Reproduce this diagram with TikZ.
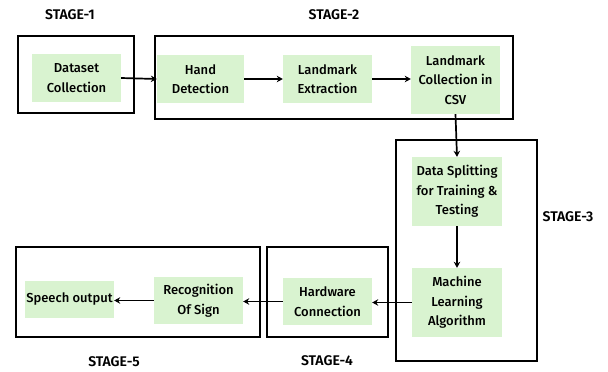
\documentclass[tikz,border=0pt]{standalone}
\usepackage{fontspec}
\setmainfont{Fira Sans}[UprightFont=* Medium, BoldFont=* SemiBold]
\usetikzlibrary{arrows.meta}
\definecolor{boxgreen}{RGB}{217,243,208}
\begin{document}
\begin{tikzpicture}[x=1pt,y=-1pt,
  gbox/.style={fill=boxgreen,draw=none,align=center,inner sep=0pt,font=\fontsize{13}{19.5}\selectfont},
  frame/.style={draw=black,line width=1.7pt},
  arr/.style={-{Stealth[length=6pt,width=6.5pt]},line width=1.7pt},
  lab/.style={font=\fontsize{14}{16}\selectfont\bfseries}]
\useasboundingbox (0,0) rectangle (608,372);
% stage frames
\draw[frame] (18,36) rectangle (134,113);
\draw[frame] (155,36) rectangle (513,119);
\draw[frame] (396,140) rectangle (537,361);
\draw[frame] (267,247) rectangle (388,337);
\draw[frame] (16,247) rectangle (260,337);
% labels
\node[lab] (l1) at (70,15) {STAGE-1};
\node[lab] (l2) at (334,15) {STAGE-2};
\node[lab] (l3) at (568,217) {STAGE-3};
\node[lab] (l4) at (327,361) {STAGE-4};
\node[lab] (l5) at (114,362) {STAGE-5};
% boxes
\node[gbox,minimum width=89pt,minimum height=48pt] (ds) at (76.5,78) {Dataset\\Collection};
\node[gbox,minimum width=87pt,minimum height=48pt] (hd) at (200.5,79) {Hand\\Detection};
\node[gbox,minimum width=89pt,minimum height=48pt] (le) at (327.5,79) {Landmark\\Extraction};
\node[gbox,minimum width=89pt,minimum height=68pt] (csv) at (455.5,80) {Landmark\\Collection in\\CSV};
\node[gbox,minimum width=90pt,minimum height=69pt] (split) at (457,191.5) {Data Splitting\\for Training \&\\Testing};
\node[gbox,minimum width=90pt,minimum height=69pt] (ml) at (457,302.5) {Machine\\Learning\\Algorithm};
\node[gbox,minimum width=89pt,minimum height=47pt] (hw) at (327.5,301.5) {Hardware\\Connection};
\node[gbox,minimum width=89pt,minimum height=47pt] (rec) at (198.5,300.5) {Recognition\\Of Sign};
\node[gbox,minimum width=89pt,minimum height=37pt] (sp) at (69.5,299.5) {Speech output};
% arrows
\draw[arr] (ds.east) -- (hd.west);
\draw[arr] (hd.east) -- (le.west);
\draw[arr] (le.east) -- (csv.west |- le.east);
\draw[arr] (csv.south) -- (split.north);
\draw[arr] (split.south) -- (ml.north);
\draw[arr] (ml.west) -- (hw.east |- ml.west);
\draw[arr] (hw.west) -- (rec.east |- hw.west);
\draw[arr] (rec.west) -- (sp.east |- rec.west);
\end{tikzpicture}
\end{document}
